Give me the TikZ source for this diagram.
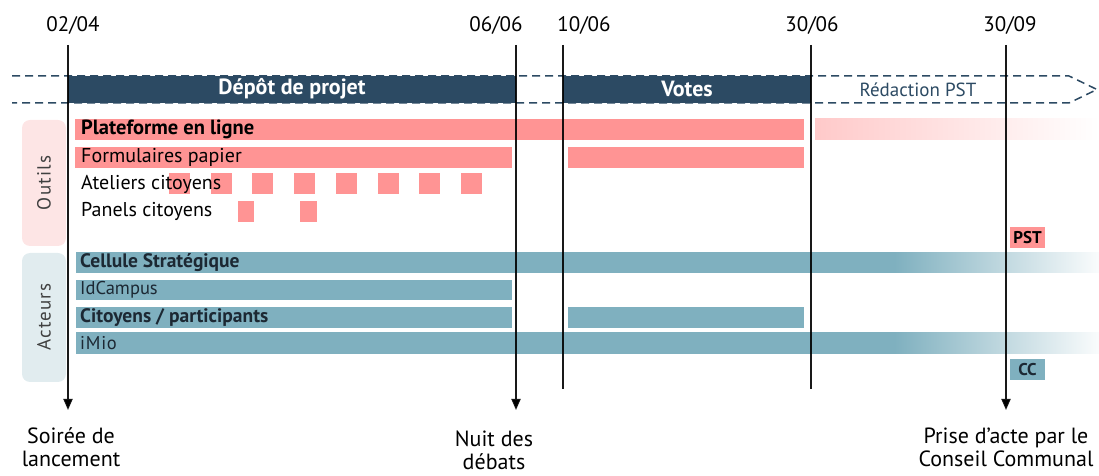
\documentclass[tikz,border=0pt]{standalone}
\usepackage{fontspec}
\setmainfont{PT Sans}
\usetikzlibrary{arrows.meta}
\definecolor{navy}{HTML}{2C4A63}
\definecolor{pinkbar}{HTML}{FF9494}
\definecolor{tealbar}{HTML}{7FB0BF}
\definecolor{outilsbg}{HTML}{FDE5E5}
\definecolor{acteursbg}{HTML}{E1ECEF}
\definecolor{darktext}{HTML}{1C2833}
\newcommand\fsz[2][1.2]{\fontsize{#2bp}{#1\dimexpr#2bp\relax}\selectfont}
\pgfdeclarehorizontalshading{tealfade}{100bp}{color(0bp)=(tealbar); color(25bp)=(tealbar); color(65bp)=(tealbar); color(75bp)=(white!96!tealbar); color(100bp)=(white!96!tealbar)}
\pgfdeclarehorizontalshading{pinkfade}{100bp}{color(0bp)=(pinkbar!50); color(25bp)=(pinkbar!50); color(75bp)=(white); color(100bp)=(white)}
\begin{document}
\begin{tikzpicture}[x=1bp,y=-1bp,
  vline/.style={line width=1.8bp,black},
  arrowline/.style={vline,-{Triangle[length=11bp,width=9bp]}},
  phaserail/.style={navy,line width=1.5bp,dash pattern=on 8bp off 5bp},
  phasebar/.style={fill=navy},
  phasetext/.style={text=white,font=\fsz{22}\bfseries},
  pinkrow/.style={fill=pinkbar},
  tealrow/.style={fill=tealbar},
  rowlabel/.style={anchor=west,inner sep=0pt,font=\fsz{20},text=black},
  actlabel/.style={anchor=west,inner sep=0pt,font=\fsz{18.5},text=darktext},
  datelabel/.style={font=\fsz{21},text=black},
  eventlabel/.style={align=center,font=\fsz[1.04]{22},text=black},
  tag/.style={inner sep=0pt,minimum width=35bp,minimum height=21bp,font=\fsz{17}\bfseries,text=darktext},
  sidebox/.style={rounded corners=8bp},
  sidetext/.style={rotate=90,font=\fsz{19}\addfontfeature{LetterSpace=6},text=black!75}
]
\useasboundingbox (0,0) rectangle (1099,476);

% side boxes
\fill[outilsbg,sidebox] (22,120) rectangle (66,246);
\node[sidetext] (outils) at (44,183) {Outils};
\fill[acteursbg,sidebox] (22,253) rectangle (66,382);
\node[sidetext] (acteurs) at (44,317) {Acteurs};

% phase rails
\coordinate (rt0) at (12,76);
\coordinate (rt1) at (1069,76);
\coordinate (tip) at (1097,89.5);
\coordinate (rb1) at (1069,103);
\coordinate (rb0) at (12,103);
\draw[phaserail] (rt0) -- (rt1) -- (tip) -- (rb1) -- (rb0);

% phase bars
\fill[phasebar] (68,76) rectangle (516,103);
\node[phasetext] (depot) at (292,89) {Dépôt de projet};
\fill[phasebar] (563,76) rectangle (811,103);
\node[phasetext] (votes) at (687,89) {Votes};
\node[font=\fsz{19},text=navy] (redac) at (918,89.5) {Rédaction PST};

% Outils rows
\fill[pinkrow] (75,119) rectangle (804,140);
\shade[shading=pinkfade] (815,119) rectangle (1099,140);
\node[rowlabel,font=\fsz{20.5}\bfseries] (plat) at (81,129.5) {Plateforme en ligne};

\fill[pinkrow] (75,147) rectangle (512,168);
\fill[pinkrow] (568,147) rectangle (804,168);
\node[rowlabel] (form) at (81,157.5) {Formulaires papier};

\foreach \i in {0,...,7} {
  \fill[pinkrow] ({169+41.7*\i},173) rectangle ({190+41.7*\i},194);
}
\node[rowlabel] (atel) at (81,184) {Ateliers citoyens};

\fill[pinkrow] (238,201) rectangle (254,222);
\fill[pinkrow] (300,201) rectangle (317,222);
\node[rowlabel] (panel) at (81,211) {Panels citoyens};

\node[tag,fill=pinkbar,text=black] (pst) at (1027.5,237.5) {PST};

% Acteurs rows
\shade[shading=tealfade] (76,253) rectangle (1099,273);
\node[actlabel,font=\fsz{19.5}\bfseries] (cell) at (80,263) {Cellule Stratégique};

\fill[tealrow] (76,280) rectangle (512,300);
\node[actlabel] (idc) at (80,290) {IdCampus};

\fill[tealrow] (76,307) rectangle (512,328);
\fill[tealrow] (568,307) rectangle (804,328);
\node[actlabel,font=\fsz{19.5}\bfseries] (cit) at (80,317.5) {Citoyens / participants};

\shade[shading=tealfade] (76,333) rectangle (1099,354);
\node[actlabel,font=\fsz{18.5}\addfontfeature{LetterSpace=4}] (imio) at (80,343.5) {iMio};

\node[tag,fill=tealbar] (cc) at (1027.5,369.5) {CC};

% time lines
\coordinate (t1) at (68,45);   \coordinate (b1) at (68,410);
\coordinate (t2) at (516,45);  \coordinate (b2) at (516,410);
\coordinate (t3) at (563,45);  \coordinate (b3) at (563,389);
\coordinate (t4) at (811,45);  \coordinate (b4) at (811,389);
\coordinate (t5) at (1006,45); \coordinate (b5) at (1006,410);
\draw[arrowline,draw opacity=0.9] (t1) -- (b1);
\draw[arrowline,draw opacity=0.9] (t2) -- (b2);
\draw[vline,draw opacity=0.9] (t3) -- (b3);
\draw[vline,draw opacity=0.9] (t4) -- (b4);
\draw[arrowline,draw opacity=0.9] (t5) -- (b5);

% dates
\node[datelabel] (d1) at (73,25) {02/04};
\node[datelabel] (d2) at (496,25) {06/06};
\node[datelabel] (d3) at (584,25) {10/06};
\node[datelabel] (d4) at (812,25) {30/06};
\node[datelabel] (d5) at (1010,25) {30/09};

% events
\node[eventlabel] (e1) at (71,447) {Soirée de\\lancement};
\node[eventlabel] (e2) at (494,450) {Nuit des\\débats};
\node[eventlabel] (e3) at (1006,447) {Prise d’acte par le\\Conseil Communal};
\end{tikzpicture}
\end{document}
